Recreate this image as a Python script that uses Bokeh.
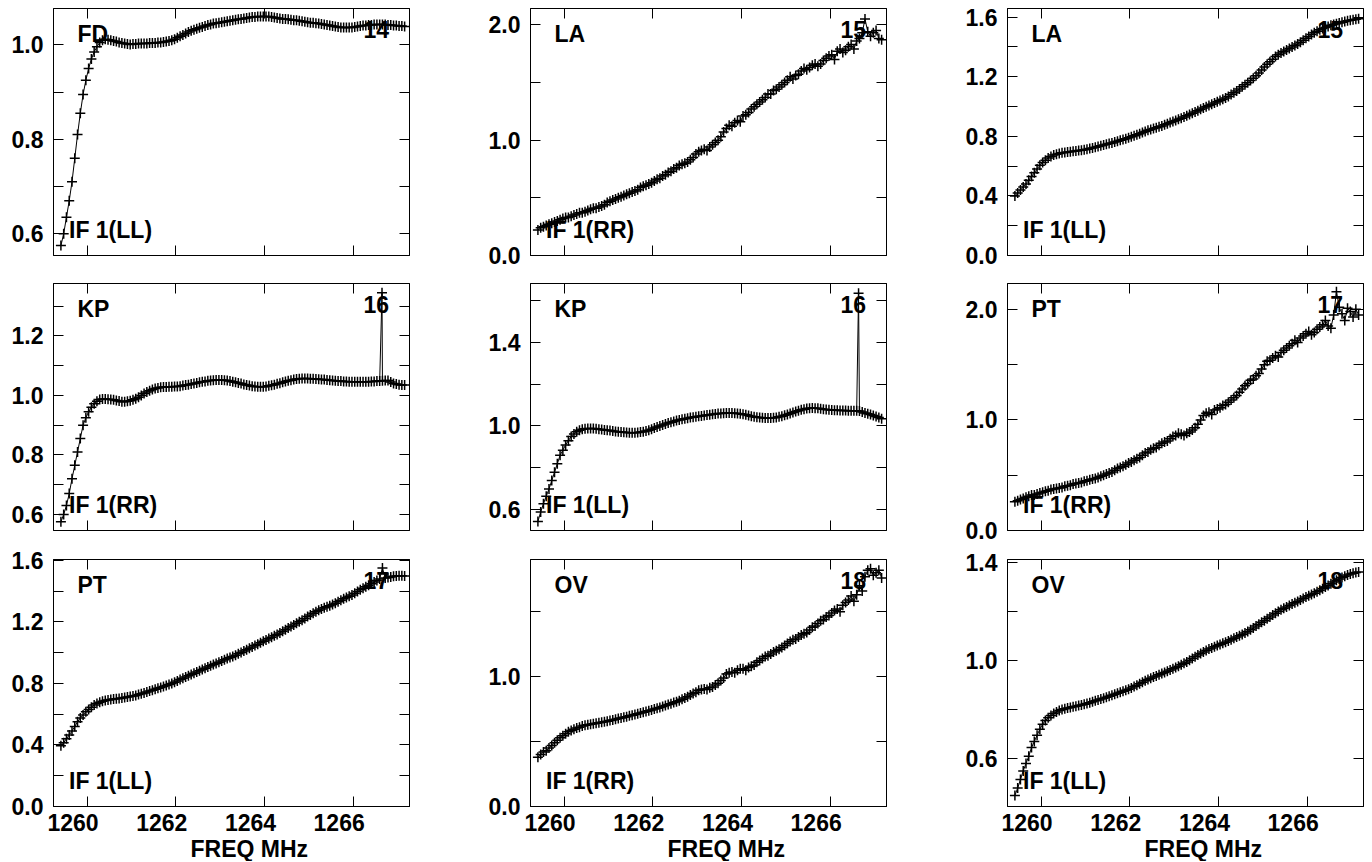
from bokeh.plotting import figure
from bokeh.layouts import gridplot
from bokeh.models import (FixedTicker, PrintfTickFormatter, LinearAxis, Label, Range1d,
                          CustomLabelingPolicy, AllLabels, Title)
from bokeh.embed import file_html
from bokeh.resources import INLINE

FONT = "Liberation Sans"
FS = "23px"

# ---------------- data (channel frequency, MHz) ----------------
freq = [1259.41, 1259.4725, 1259.535, 1259.5975, 1259.66, 1259.7225, 1259.785, 1259.8475, 1259.91, 1259.9725,
        1260.035, 1260.0975, 1260.16, 1260.2225, 1260.285, 1260.3475, 1260.41, 1260.4725, 1260.535, 1260.5975,
        1260.66, 1260.7225, 1260.785, 1260.8475, 1260.91, 1260.9725, 1261.035, 1261.0975, 1261.16, 1261.2225,
        1261.285, 1261.3475, 1261.41, 1261.4725, 1261.535, 1261.5975, 1261.66, 1261.7225, 1261.785, 1261.8475,
        1261.91, 1261.9725, 1262.035, 1262.0975, 1262.16, 1262.2225, 1262.285, 1262.3475, 1262.41, 1262.4725,
        1262.535, 1262.5975, 1262.66, 1262.7225, 1262.785, 1262.8475, 1262.91, 1262.9725, 1263.035, 1263.0975,
        1263.16, 1263.2225, 1263.285, 1263.3475, 1263.41, 1263.4725, 1263.535, 1263.5975, 1263.66, 1263.7225,
        1263.785, 1263.8475, 1263.91, 1263.9725, 1264.035, 1264.0975, 1264.16, 1264.2225, 1264.285, 1264.3475,
        1264.41, 1264.4725, 1264.535, 1264.5975, 1264.66, 1264.7225, 1264.785, 1264.8475, 1264.91, 1264.9725,
        1265.035, 1265.0975, 1265.16, 1265.2225, 1265.285, 1265.3475, 1265.41, 1265.4725, 1265.535, 1265.5975,
        1265.66, 1265.7225, 1265.785, 1265.8475, 1265.91, 1265.9725, 1266.035, 1266.0975, 1266.16, 1266.2225,
        1266.285, 1266.3475, 1266.41, 1266.4725, 1266.535, 1266.5975, 1266.66, 1266.7225, 1266.785, 1266.8475,
        1266.91, 1266.9725, 1267.035, 1267.0975, 1267.16]

fd_ll = [0.575, 0.60, 0.635, 0.67, 0.71, 0.76, 0.81, 0.855, 0.895, 0.925,
         0.95, 0.97, 0.985, 0.996, 1.005, 1.010, 1.012, 1.011, 1.010, 1.008,
         1.007, 1.005, 1.004, 1.003, 1.002, 1.001, 1.002, 1.002, 1.003, 1.003,
         1.003, 1.003, 1.004, 1.004, 1.004, 1.005, 1.005, 1.006, 1.007, 1.008,
         1.010, 1.012, 1.015, 1.018, 1.021, 1.024, 1.027, 1.030, 1.032, 1.034,
         1.036, 1.038, 1.040, 1.042, 1.043, 1.045, 1.046, 1.047, 1.048, 1.049,
         1.050, 1.051, 1.052, 1.053, 1.054, 1.055, 1.056, 1.057, 1.058, 1.059,
         1.059, 1.060, 1.060, 1.060, 1.060, 1.060, 1.059, 1.058, 1.057, 1.056,
         1.055, 1.055, 1.054, 1.053, 1.052, 1.052, 1.051, 1.050, 1.049, 1.048,
         1.047, 1.047, 1.046, 1.045, 1.044, 1.043, 1.042, 1.041, 1.040, 1.039,
         1.038, 1.037, 1.037, 1.037, 1.037, 1.037, 1.038, 1.039, 1.040, 1.041,
         1.041, 1.042, 1.042, 1.043, 1.043, 1.043, 1.043, 1.043, 1.042, 1.042,
         1.041, 1.041, 1.040, 1.040, 1.039]

la_rr = [0.22, 0.24, 0.25, 0.26, 0.27, 0.28, 0.29, 0.30, 0.31, 0.32,
         0.33, 0.33, 0.34, 0.35, 0.36, 0.37, 0.37, 0.38, 0.39, 0.40,
         0.41, 0.41, 0.42, 0.43, 0.44, 0.46, 0.47, 0.48, 0.49, 0.50,
         0.51, 0.52, 0.53, 0.54, 0.55, 0.56, 0.57, 0.59, 0.60, 0.61,
         0.62, 0.63, 0.645, 0.66, 0.67, 0.69, 0.70, 0.72, 0.73, 0.75,
         0.76, 0.78, 0.79, 0.80, 0.81, 0.83, 0.85, 0.88, 0.90, 0.91,
         0.92, 0.91, 0.94, 0.96, 0.98, 1.00, 1.03, 1.07, 1.10, 1.13,
         1.12, 1.15, 1.17, 1.16, 1.21, 1.22, 1.24, 1.27, 1.29, 1.31,
         1.33, 1.35, 1.37, 1.40, 1.40, 1.43, 1.44, 1.46, 1.48, 1.50,
         1.52, 1.55, 1.53, 1.56, 1.57, 1.60, 1.62, 1.61, 1.63, 1.65,
         1.66, 1.64, 1.66, 1.69, 1.71, 1.73, 1.74, 1.70, 1.77, 1.79,
         1.76, 1.78, 1.81, 1.83, 1.79, 1.86, 1.88, 1.93, 2.05, 1.94,
         1.90, 1.93, 1.95, 1.88, 1.87]

la_ll = [0.40, 0.42, 0.44, 0.46, 0.48, 0.505, 0.53, 0.555, 0.58, 0.605,
         0.625, 0.64, 0.655, 0.665, 0.675, 0.68, 0.685, 0.69, 0.692, 0.695,
         0.697, 0.700, 0.702, 0.705, 0.707, 0.710, 0.714, 0.718, 0.722, 0.727,
         0.731, 0.736, 0.741, 0.746, 0.751, 0.756, 0.762, 0.767, 0.773, 0.778,
         0.784, 0.790, 0.797, 0.804, 0.811, 0.818, 0.826, 0.833, 0.840, 0.846,
         0.852, 0.858, 0.864, 0.870, 0.877, 0.885, 0.892, 0.899, 0.906, 0.914,
         0.922, 0.930, 0.938, 0.946, 0.955, 0.963, 0.972, 0.981, 0.990, 0.998,
         1.007, 1.015, 1.024, 1.032, 1.040, 1.048, 1.057, 1.068, 1.080, 1.092,
         1.105, 1.118, 1.132, 1.146, 1.160, 1.175, 1.190, 1.207, 1.225, 1.245,
         1.265, 1.283, 1.300, 1.318, 1.335, 1.348, 1.360, 1.370, 1.380, 1.390,
         1.400, 1.410, 1.420, 1.432, 1.445, 1.458, 1.470, 1.483, 1.495, 1.505,
         1.515, 1.523, 1.530, 1.538, 1.545, 1.550, 1.555, 1.560, 1.565, 1.570,
         1.575, 1.579, 1.582, 1.586, 1.590]

kp_rr = [0.575, 0.60, 0.63, 0.67, 0.72, 0.765, 0.81, 0.855, 0.90, 0.925,
         0.945, 0.960, 0.972, 0.980, 0.986, 0.988, 0.988, 0.987, 0.986, 0.985,
         0.983, 0.981, 0.979, 0.979, 0.980, 0.982, 0.985, 0.989, 0.994, 1.000,
         1.006, 1.011, 1.016, 1.020, 1.023, 1.025, 1.027, 1.028, 1.028, 1.029,
         1.029, 1.030, 1.030, 1.031, 1.033, 1.035, 1.036, 1.038, 1.040, 1.042,
         1.044, 1.046, 1.047, 1.049, 1.050, 1.051, 1.052, 1.052, 1.052, 1.051,
         1.050, 1.048, 1.046, 1.044, 1.042, 1.040, 1.037, 1.035, 1.033, 1.031,
         1.030, 1.029, 1.029, 1.029, 1.030, 1.032, 1.034, 1.036, 1.039, 1.041,
         1.044, 1.047, 1.049, 1.051, 1.053, 1.055, 1.056, 1.057, 1.057, 1.057,
         1.056, 1.056, 1.055, 1.054, 1.053, 1.053, 1.052, 1.051, 1.050, 1.049,
         1.048, 1.048, 1.047, 1.047, 1.046, 1.046, 1.046, 1.046, 1.046, 1.046,
         1.046, 1.046, 1.047, 1.047, 1.048, 1.048, 1.049, 1.050, 1.050, 1.045,
         1.040, 1.038, 1.036, 1.035, 1.035]
kp_rr_spike = (1266.65, 1.345)

kp_ll = [0.545, 0.59, 0.63, 0.665, 0.70, 0.74, 0.78, 0.82, 0.86, 0.885,
         0.91, 0.93, 0.95, 0.962, 0.973, 0.980, 0.985, 0.987, 0.988, 0.988,
         0.988, 0.987, 0.985, 0.983, 0.981, 0.980, 0.978, 0.976, 0.974, 0.972,
         0.971, 0.970, 0.969, 0.968, 0.968, 0.968, 0.969, 0.971, 0.973, 0.976,
         0.980, 0.985, 0.990, 0.995, 1.000, 1.005, 1.010, 1.014, 1.018, 1.022,
         1.026, 1.029, 1.032, 1.035, 1.037, 1.040, 1.042, 1.044, 1.046, 1.048,
         1.050, 1.052, 1.054, 1.056, 1.057, 1.059, 1.060, 1.061, 1.062, 1.062,
         1.062, 1.061, 1.060, 1.058, 1.056, 1.053, 1.050, 1.047, 1.044, 1.042,
         1.040, 1.039, 1.038, 1.038, 1.038, 1.039, 1.041, 1.044, 1.047, 1.051,
         1.055, 1.060, 1.064, 1.069, 1.073, 1.077, 1.080, 1.083, 1.085, 1.086,
         1.085, 1.084, 1.082, 1.080, 1.078, 1.077, 1.076, 1.075, 1.075, 1.074,
         1.074, 1.074, 1.073, 1.073, 1.073, 1.073, 1.072, 1.067, 1.062, 1.058,
         1.055, 1.050, 1.045, 1.040, 1.035]
kp_ll_spike = (1266.64, 1.632)

pt_rr = [0.26, 0.27, 0.28, 0.29, 0.30, 0.31, 0.32, 0.32, 0.33, 0.34,
         0.345, 0.355, 0.36, 0.37, 0.375, 0.38, 0.385, 0.39, 0.40, 0.405,
         0.41, 0.42, 0.425, 0.43, 0.435, 0.445, 0.45, 0.46, 0.465, 0.47,
         0.48, 0.49, 0.50, 0.51, 0.52, 0.53, 0.545, 0.56, 0.57, 0.58,
         0.595, 0.61, 0.62, 0.635, 0.65, 0.66, 0.68, 0.70, 0.71, 0.73,
         0.745, 0.75, 0.77, 0.79, 0.80, 0.81, 0.83, 0.85, 0.86, 0.88,
         0.87, 0.86, 0.88, 0.89, 0.91, 0.93, 0.96, 1.00, 1.04, 1.06,
         1.07, 1.05, 1.09, 1.10, 1.11, 1.13, 1.14, 1.16, 1.18, 1.20,
         1.22, 1.25, 1.28, 1.31, 1.33, 1.36, 1.37, 1.40, 1.42, 1.46,
         1.50, 1.53, 1.54, 1.56, 1.58, 1.57, 1.61, 1.63, 1.65, 1.67,
         1.69, 1.72, 1.70, 1.74, 1.76, 1.78, 1.80, 1.77, 1.79, 1.82,
         1.84, 1.86, 1.90, 1.85, 1.83, 1.95, 2.16, 2.02, 1.96, 1.90,
         2.01, 1.98, 1.93, 2.00, 1.95]

pt_ll = [0.395, 0.415, 0.44, 0.465, 0.49, 0.52, 0.55, 0.575, 0.595, 0.615,
         0.63, 0.645, 0.66, 0.67, 0.678, 0.684, 0.688, 0.692, 0.695, 0.698,
         0.700, 0.702, 0.705, 0.708, 0.711, 0.714, 0.718, 0.722, 0.727, 0.732,
         0.738, 0.744, 0.750, 0.756, 0.762, 0.768, 0.774, 0.780, 0.786, 0.793,
         0.800, 0.808, 0.816, 0.825, 0.833, 0.842, 0.850, 0.858, 0.866, 0.874,
         0.882, 0.890, 0.898, 0.906, 0.914, 0.922, 0.930, 0.938, 0.946, 0.954,
         0.961, 0.968, 0.975, 0.983, 0.992, 1.001, 1.010, 1.019, 1.028, 1.037,
         1.046, 1.055, 1.064, 1.073, 1.082, 1.091, 1.100, 1.109, 1.118, 1.128,
         1.138, 1.149, 1.160, 1.170, 1.180, 1.190, 1.200, 1.211, 1.222, 1.234,
         1.245, 1.256, 1.266, 1.275, 1.283, 1.291, 1.298, 1.305, 1.312, 1.321,
         1.330, 1.340, 1.350, 1.358, 1.366, 1.375, 1.385, 1.397, 1.408, 1.418,
         1.428, 1.438, 1.448, 1.458, 1.468, 1.478, 1.550, 1.484, 1.488, 1.492,
         1.496, 1.498, 1.500, 1.499, 1.498]

ov_rr = [0.38, 0.40, 0.42, 0.43, 0.45, 0.47, 0.49, 0.51, 0.53, 0.545,
         0.56, 0.575, 0.585, 0.595, 0.605, 0.61, 0.62, 0.625, 0.63, 0.634,
         0.637, 0.641, 0.645, 0.649, 0.653, 0.657, 0.662, 0.667, 0.672, 0.677,
         0.682, 0.687, 0.692, 0.698, 0.703, 0.708, 0.714, 0.720, 0.725, 0.731,
         0.738, 0.744, 0.750, 0.756, 0.762, 0.770, 0.777, 0.785, 0.792, 0.800,
         0.807, 0.815, 0.825, 0.835, 0.845, 0.858, 0.870, 0.880, 0.895, 0.90,
         0.905, 0.90, 0.915, 0.92, 0.935, 0.95, 0.970, 0.99, 1.020, 1.03,
         1.035, 1.03, 1.050, 1.06, 1.060, 1.05, 1.070, 1.08, 1.090, 1.11,
         1.125, 1.14, 1.155, 1.16, 1.175, 1.19, 1.200, 1.21, 1.225, 1.24,
         1.255, 1.27, 1.285, 1.29, 1.305, 1.32, 1.33, 1.34, 1.36, 1.38,
         1.39, 1.41, 1.43, 1.44, 1.46, 1.47, 1.49, 1.51, 1.52, 1.50,
         1.55, 1.57, 1.59, 1.62, 1.58, 1.63, 1.70, 1.66, 1.77, 1.82,
         1.83, 1.78, 1.80, 1.82, 1.76]

ov_ll = [0.45, 0.48, 0.515, 0.55, 0.58, 0.61, 0.645, 0.67, 0.695, 0.72,
         0.74, 0.755, 0.766, 0.776, 0.784, 0.790, 0.796, 0.800, 0.803, 0.806,
         0.808, 0.811, 0.813, 0.816, 0.818, 0.821, 0.825, 0.828, 0.832, 0.836,
         0.839, 0.843, 0.846, 0.850, 0.854, 0.858, 0.862, 0.866, 0.870, 0.874,
         0.878, 0.883, 0.888, 0.894, 0.899, 0.905, 0.911, 0.917, 0.922, 0.927,
         0.932, 0.937, 0.942, 0.947, 0.951, 0.956, 0.961, 0.966, 0.971, 0.976,
         0.982, 0.988, 0.994, 1.001, 1.008, 1.015, 1.022, 1.028, 1.034, 1.040,
         1.046, 1.051, 1.056, 1.061, 1.065, 1.070, 1.074, 1.079, 1.084, 1.090,
         1.095, 1.100, 1.106, 1.112, 1.118, 1.125, 1.132, 1.140, 1.147, 1.155,
         1.162, 1.170, 1.177, 1.185, 1.192, 1.199, 1.206, 1.212, 1.218, 1.224,
         1.230, 1.235, 1.240, 1.246, 1.252, 1.258, 1.263, 1.268, 1.274, 1.280,
         1.286, 1.292, 1.299, 1.305, 1.312, 1.319, 1.326, 1.332, 1.338, 1.343,
         1.348, 1.352, 1.355, 1.358, 1.360]

sources = ["FD", "LA", "LA", "KP", "KP", "PT", "PT", "OV", "OV"]
numbers = ["14", "15", "15", "16", "16", "17", "17", "18", "18"]
pols = ["IF 1(LL)", "IF 1(RR)", "IF 1(LL)", "IF 1(RR)", "IF 1(LL)", "IF 1(RR)",
        "IF 1(LL)", "IF 1(RR)", "IF 1(LL)"]
values = [fd_ll, la_rr, la_ll, kp_rr, kp_ll, pt_rr, pt_ll, ov_rr, ov_ll]
spikes = [None, None, None, kp_rr_spike, kp_ll_spike, None, None, None, None]

y_major = [[0.6, 0.8, 1.0], [0.0, 1.0, 2.0], [0.0, 0.4, 0.8, 1.2, 1.6],
           [0.6, 0.8, 1.0, 1.2], [0.6, 1.0, 1.4], [0.0, 1.0, 2.0],
           [0.0, 0.4, 0.8, 1.2, 1.6], [0.0, 1.0], [0.6, 1.0, 1.4]]
y_minor = [[0.7, 0.9], [0.5, 1.5], [0.2, 0.6, 1.0, 1.4],
           [0.7, 0.9, 1.1, 1.3], [0.8, 1.2, 1.6], [0.5, 1.5],
           [0.2, 0.6, 1.0, 1.4], [0.5, 1.5], [0.8, 1.2]]

xticks = [1260, 1262, 1264, 1266]
xtick_labels = ["1260", "1262", "1264", "1266"]
x_title = "FREQ MHz"

# ---------------- layout / style ----------------
X_RANGE = (1259.243, 1267.27)
Y_RANGES = [(0.554, 1.077), (0.0, 2.141), (0.0, 1.658),
            (0.546, 1.376), (0.502, 1.679), (0.0, 2.234),
            (0.0, 1.605), (0.0, 1.902), (0.405, 1.411)]
FRAME_W, FRAME_H = 356, 247
LABEL_SHIFT_PX = 14  # x tick labels sit left of their ticks
BORDERS = [(8, 14), (14, 14), (15, 54)]  # (top, bottom) per row
RIGHT_BORDERS = [68, 68, 2]


def series(vals, spike):
    xs, ys = list(freq), list(vals)
    if spike is not None:
        fx, fy = spike
        i = next(k for k, f in enumerate(xs) if f > fx)
        xs.insert(i, fx)
        ys.insert(i, fy)
    return xs, ys


def style_axis(ax, labelled):
    ax.major_tick_in = 10
    ax.major_tick_out = 0
    ax.minor_tick_in = 10
    ax.minor_tick_out = 0
    ax.axis_line_color = "black"
    ax.axis_line_width = 1
    ax.major_tick_line_color = "black"
    ax.minor_tick_line_color = "black"
    if labelled:
        ax.major_label_text_font = FONT
        ax.major_label_text_font_style = "bold"
        ax.major_label_text_font_size = FS
        ax.major_label_text_color = "black"
        ax.major_label_standoff = 10
        ax.major_label_policy = AllLabels()
    else:
        ax.major_label_text_font_size = "0px"
        ax.major_label_standoff = 0
        ax.major_label_policy = CustomLabelingPolicy(code="return []")


def lab(text, x, y, dx, dy, align="left", baseline="top"):
    return Label(x=x, y=y, x_offset=dx, y_offset=dy, text=text, text_font=FONT,
                 text_font_style="bold", text_font_size=FS, text_color="black",
                 text_align=align, text_baseline=baseline, level="underlay")


figs = []
for i in range(9):
    r, c = divmod(i, 3)
    y0, y1 = Y_RANGES[i]
    bt, bb = BORDERS[r]
    p = figure(frame_width=FRAME_W, frame_height=FRAME_H,
               x_range=Range1d(*X_RANGE), y_range=Range1d(y0, y1),
               output_backend="svg", toolbar_location=None, tools="",
               x_axis_location=None, y_axis_location=None,
               min_border_left=53, min_border_right=RIGHT_BORDERS[c],
               min_border_top=bt, min_border_bottom=bb)
    p.grid.visible = False
    p.outline_line_color = "black"
    p.background_fill_color = "white"
    p.border_fill_color = "white"

    yt = FixedTicker(ticks=y_major[i], minor_ticks=y_minor[i])
    xt = FixedTicker(ticks=xticks, minor_ticks=[])
    left = LinearAxis(ticker=yt, formatter=PrintfTickFormatter(format="%.1f"))
    right = LinearAxis(ticker=yt)
    top = LinearAxis(ticker=xt)
    bottom = LinearAxis(ticker=xt)
    style_axis(left, True)
    style_axis(right, False)
    style_axis(top, False)
    style_axis(bottom, False)
    p.add_layout(left, "left")
    p.add_layout(right, "right")
    p.add_layout(top, "above")
    p.add_layout(bottom, "below")

    p.add_layout(lab(sources[i], X_RANGE[0], y1, 24, -12))
    p.add_layout(lab(numbers[i], X_RANGE[1], y1, -20.5, -12, align="right"))
    p.add_layout(lab(pols[i], X_RANGE[0], y0, 15.5, 26, baseline="alphabetic"))

    xs, ys = series(values[i], spikes[i])
    p.line(xs, ys, line_color="black", line_width=1)
    p.scatter(xs, ys, marker="cross", size=10, line_color="black", line_width=1.5)

    if r == 2:
        shift = LABEL_SHIFT_PX * (X_RANGE[1] - X_RANGE[0]) / FRAME_W
        p.extra_x_ranges = {"lab": Range1d(X_RANGE[0] + shift, X_RANGE[1] + shift)}
        labax = LinearAxis(x_range_name="lab",
                           ticker=FixedTicker(ticks=xticks, minor_ticks=[]),
                           major_label_overrides={v: t for v, t in zip(xticks, xtick_labels)})
        labax.axis_line_color = None
        labax.major_tick_line_color = None
        labax.minor_tick_line_color = None
        labax.major_tick_in = 0
        labax.major_tick_out = 0
        labax.major_label_text_font = FONT
        labax.major_label_text_font_style = "bold"
        labax.major_label_text_font_size = FS
        labax.major_label_text_color = "black"
        labax.major_label_standoff = 7
        labax.major_label_policy = AllLabels()
        p.add_layout(labax, "below")
        p.add_layout(Title(text=x_title, align="left", offset=137, standoff=0,
                           text_font=FONT, text_font_style="bold", text_font_size=FS,
                           text_color="black"), "below")
    figs.append(p)

grid = gridplot([figs[0:3], figs[3:6], figs[6:9]], toolbar_location=None)

with open("out.html", "w") as f:
    f.write(file_html(grid, INLINE, title="Bandpass"))
